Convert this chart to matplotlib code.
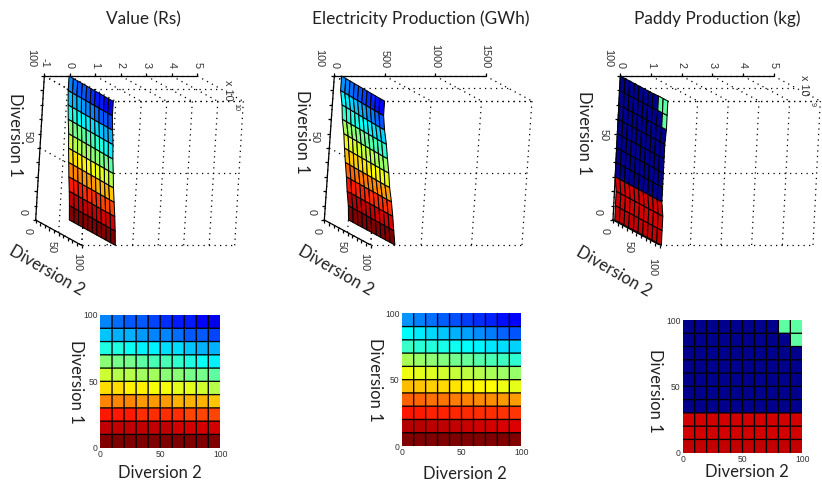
import numpy as np
import matplotlib
matplotlib.use("Agg")
import matplotlib.pyplot as plt
from matplotlib.collections import PolyCollection
from matplotlib.colors import Normalize, LinearSegmentedColormap

titles = ["Value (Rs)", "Electricity Production (GWh)", "Paddy Production (kg)"]
xlabel = "Diversion 2"
ylabel = "Diversion 1"
d_ticks = [0, 50, 100]
d_edges = list(range(0, 101, 10))

# cell values, rows from Diversion 1 = 0-10 up to 90-100, columns Diversion 2 = 0-100
value_rs = [  # x 1e10
    [0.32, 0.32, 0.32, 0.32, 0.32, 0.32, 0.32, 0.32, 0.32, 0.32],
    [0.29, 0.29, 0.29, 0.29, 0.29, 0.29, 0.28, 0.28, 0.28, 0.28],
    [0.25, 0.25, 0.25, 0.24, 0.24, 0.24, 0.24, 0.23, 0.23, 0.23],
    [0.20, 0.20, 0.20, 0.19, 0.19, 0.19, 0.18, 0.18, 0.18, 0.17],
    [0.16, 0.16, 0.15, 0.15, 0.14, 0.14, 0.13, 0.13, 0.12, 0.11],
    [0.12, 0.11, 0.11, 0.10, 0.10, 0.09, 0.09, 0.08, 0.08, 0.07],
    [0.09, 0.08, 0.08, 0.07, 0.06, 0.06, 0.05, 0.04, 0.03, 0.02],
    [0.04, 0.04, 0.03, 0.02, 0.02, 0.01, 0.01, 0.00, -0.01, -0.01],
    [0.00, -0.01, -0.01, -0.02, -0.03, -0.03, -0.04, -0.05, -0.05, -0.06],
    [-0.03, -0.04, -0.05, -0.05, -0.06, -0.07, -0.08, -0.08, -0.09, -0.10],
]
electricity_gwh = [
    [240, 240, 240, 240, 240, 240, 240, 240, 240, 240],
    [228, 227, 226, 225, 224, 223, 222, 221, 220, 219],
    [206, 205, 204, 204, 203, 202, 201, 201, 200, 199],
    [189, 188, 186, 185, 183, 182, 180, 179, 177, 176],
    [169, 167, 164, 162, 160, 157, 155, 153, 150, 148],
    [150, 148, 146, 143, 141, 139, 137, 134, 132, 130],
    [134, 131, 128, 125, 122, 119, 116, 113, 110, 107],
    [109, 106, 104, 101, 99, 96, 94, 91, 89, 86],
    [96, 92, 88, 84, 79, 75, 71, 67, 62, 58],
    [72, 68, 64, 60, 57, 53, 49, 46, 42, 39],
]
paddy_kg = [  # x 1e9
    [0.056] * 10,
    [0.055] * 10,
    [0.055] * 10,
    [0.000] * 10,
    [0.000] * 10,
    [0.000] * 10,
    [0.000] * 10,
    [0.000] * 10,
    [0.000] * 9 + [0.028],
    [0.000] * 8 + [0.028, 0.028],
]
value_ticks = [-1, 0, 1, 2, 3, 4, 5]
electricity_ticks = [0, 500, 1000, 1500]
paddy_ticks = [0, 1, 2, 3, 4, 5]

W, H = 822, 486
TICK_FONT = "Liberation Sans"
TEXT_FONT = "Lato"
TICK_C = "#333333"

fig = plt.figure(figsize=(W / 100, H / 100), dpi=100)
canvas = fig.add_axes([0, 0, 1, 1])
canvas.set_xlim(0, W)
canvas.set_ylim(H, 0)
canvas.axis("off")
cmap = LinearSegmentedColormap.from_list(
    "matlab_jet",
    [(0.0, (0, 0, 0.55)), (0.125, (0, 0, 1)), (0.375, (0, 1, 1)),
     (0.625, (1, 1, 0)), (0.875, (1, 0, 0)), (1.0, (0.5, 0, 0))], N=256)


def pair(a):
    return np.array(a, dtype=float) / 3.0


def surface3d(values, ticks, origin, d1vec, d2vec, ztick_px, vlim, mult, mult_pos, exp_pos,
              labels):
    O = np.array(origin, dtype=float)
    d1v = np.array(d1vec, dtype=float)
    d2v = np.array(d2vec, dtype=float)
    zmin = ticks[0]

    def P(d1, d2, z):
        return (O + (100 - d1) / 100 * d1v + d2 / 100 * d2v
                + np.array([(z - zmin) * ztick_px, 0.0]))

    zmax = ticks[-1]
    dot = dict(color="black", lw=0.9, ls=(0, (1, 3.4)), zorder=1)
    for d in d_ticks:
        for seg in ([P(d, 0, zmin), P(d, 100, zmin)], [P(0, d, zmin), P(100, d, zmin)],
                    [P(d, 100, zmin), P(d, 100, zmax)], [P(100, d, zmin), P(100, d, zmax)]):
            canvas.plot(*np.array(seg).T, **dot)
    for z in ticks:
        for seg in ([P(0, 100, z), P(100, 100, z)], [P(100, 0, z), P(100, 100, z)]):
            canvas.plot(*np.array(seg).T, **dot)
    # solid axes
    solid = dict(color="black", lw=0.9, zorder=2, solid_capstyle="butt")
    canvas.plot(*np.array([P(100, 0, zmin), P(100, 0, zmax)]).T, **solid)
    canvas.plot(*np.array([P(0, 0, zmin), P(100, 0, zmin)]).T, **solid)
    canvas.plot(*np.array([P(0, 0, zmin), P(0, 100, zmin)]).T, **solid)
    for z in ticks:
        a = P(100, 0, z)
        canvas.plot(*np.array([a, a + (0, -2.5)]).T, **solid)
        canvas.text(a[0], a[1] - 8, str(z), rotation=-90, ha="center", va="bottom",
                    fontsize=7.8, family=TICK_FONT, color=TICK_C)
    for d in d_edges:
        a = P(d, 0, zmin)
        canvas.plot(*np.array([a, a + (-3, 0)]).T, **solid)
        b = P(0, d, zmin)
        canvas.plot(*np.array([b, b + (0, 3)]).T, **solid)
    for d, pos in zip(d_ticks, labels["d1"]):
        canvas.text(*pos, str(d), rotation=-90, ha="center", va="center",
                    fontsize=7.8, family=TICK_FONT, color=TICK_C)
    for d, pos in zip(d_ticks, labels["d2"]):
        canvas.text(*pos, str(d), rotation=-90, ha="center", va="center",
                    fontsize=7.8, family=TICK_FONT, color=TICK_C)
    # surface (node heights follow the neighbouring cell values)
    v = np.array(values, dtype=float)
    nodes = np.pad(v, ((0, 1), (0, 1)), mode="edge")
    polys, cols = [], []
    for i in range(10):
        for j in range(10):
            polys.append([P(d_edges[i], d_edges[j], nodes[i, j]),
                          P(d_edges[i + 1], d_edges[j], nodes[i + 1, j]),
                          P(d_edges[i + 1], d_edges[j + 1], nodes[i + 1, j + 1]),
                          P(d_edges[i], d_edges[j + 1], nodes[i, j + 1])])
            cols.append(v[i, j])
    pc = PolyCollection(polys, array=np.array(cols), cmap=cmap, norm=Normalize(*vlim),
                        edgecolors="black", linewidths=0.75, zorder=3)
    canvas.add_collection(pc)
    if mult:
        canvas.text(*mult_pos, "x 10", rotation=-90, ha="center", va="center",
                    fontsize=7.8, family=TICK_FONT, color=TICK_C)
        canvas.text(*exp_pos, mult, rotation=-90, ha="center", va="center",
                    fontsize=5.2, family=TICK_FONT, color=TICK_C)


def heat(values, box, vlim):
    x0, x1, y0, y1 = box
    ax = fig.add_axes([x0 / W, 1 - y1 / H, (x1 - x0) / W, (y1 - y0) / H])
    ax.pcolormesh(d_edges, d_edges, np.array(values, dtype=float), cmap=cmap,
                  norm=Normalize(*vlim))
    lines = dict(color="black", lw=0.95, zorder=3, snap=False)
    ax.vlines(d_edges[1:-1], 0, 100, **lines)
    ax.hlines(d_edges[1:-1], 0, 100, **lines)
    ax.set_xlim(0, 100)
    ax.set_ylim(0, 100)
    ax.set_xticks(d_ticks)
    ax.set_yticks(d_ticks)
    ax.tick_params(length=0, labelsize=6.2, pad=1.5, colors=TICK_C, labelfontfamily=TICK_FONT)
    for s in ax.spines.values():
        s.set_visible(False)


surface3d(value_rs, value_ticks, pair((133, 228)), pair((-26, 432)), pair((138, 76)),
          25.5, (-0.15, 0.32), "10", (228, 90), (236, 107),
          dict(d1=[(23, 212), (28, 137), (31, 58)], d2=[(28, 231), (52, 247), (77, 262)]))
surface3d(electricity_gwh, electricity_ticks, np.array((163, 228)) / 3 + (280, 0),
          pair((-30, 432)), pair((139, 75)), 151.3 / 3 / 500,
          (10, 240), None, None, None,
          dict(d1=[(312, 212), (315, 137), (319, 58)], d2=[(317, 231), (342, 247), (364, 262)]))
surface3d(paddy_kg, paddy_ticks, np.array((205, 228)) / 3 + (552, 0),
          pair((-22, 432)), pair((140, 75)), 92 / 3,
          (0, 0.06), "9", (804, 85), (812, 104),
          dict(d1=[(598, 212), (604, 135), (608, 58)], d2=[(605, 231), (629, 247), (652, 267)]))

heat(value_rs, (100, 220.3, 315, 447.7), (-0.15, 0.32))
heat(electricity_gwh, (401.7, 521.3, 313.3, 446), (10, 240))
heat(paddy_kg, (682.7, 802.3, 320, 452.7), (0, 0.06))

text_kw = dict(family=TEXT_FONT, color="#222222", ha="center", va="center")
for x, t in zip((143, 421, 717), titles):
    canvas.text(x, 19, t, fontsize=12.4, **text_kw)
# 3D axis labels
for x, y in ((15, 135), (302, 132), (584, 133)):
    canvas.text(x, y, ylabel, rotation=-90, fontsize=12, **text_kw)
for x, y, r in ((47, 271, -30), (336, 271, -30), (614, 272, -30)):
    canvas.text(x, y, xlabel, rotation=r, fontsize=12, **text_kw)
# 2D axis labels
for x, y in ((76, 381.5), (375, 380), (655, 390.5)):
    canvas.text(x, y, ylabel, rotation=-90, fontsize=12, **text_kw)
for x, y in ((160, 472.5), (465, 474), (746.5, 472)):
    canvas.text(x, y, xlabel, fontsize=12, **text_kw)

fig.savefig("out.png", dpi=100)
